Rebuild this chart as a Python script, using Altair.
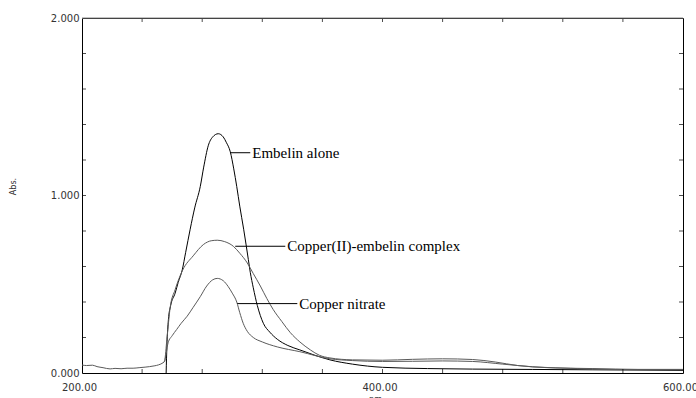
import altair as alt
import pandas as pd

# ---- data ----
embelin_nm = [256, 256.5, 257.5, 259, 262, 264, 266.7, 269, 272, 275, 278.7, 281, 284, 287, 290.7,
              294, 296, 298.7, 301, 303, 305, 307.6, 310.7, 312, 314, 316.7, 320.7, 325, 330, 337,
              345, 355, 365, 380, 400, 430, 460, 500, 540, 600]
embelin_abs = [0.0, 0.15, 0.30, 0.38, 0.45, 0.51, 0.58, 0.68, 0.81, 0.93, 1.05, 1.16, 1.28, 1.33, 1.348,
               1.33, 1.30, 1.246, 1.15, 1.05, 0.94, 0.81, 0.64, 0.567, 0.48, 0.38, 0.28, 0.23, 0.19, 0.155,
               0.13, 0.10, 0.074, 0.05, 0.032, 0.025, 0.022, 0.02, 0.018, 0.015]

complex_nm = [254, 255, 256.5, 258.7, 262, 267, 274, 281, 286, 290, 295, 300.7, 305, 310, 314,
              318.7, 323, 327.3, 333, 338.7, 345, 352, 358, 365, 380, 400, 420, 440, 460, 475,
              490, 510, 540, 570, 600]
complex_abs = [0.058, 0.07, 0.19, 0.37, 0.47, 0.58, 0.66, 0.725, 0.745, 0.748, 0.74, 0.714, 0.675, 0.62, 0.56,
               0.49, 0.42, 0.357, 0.29, 0.227, 0.175, 0.13, 0.10, 0.085, 0.074, 0.072, 0.077, 0.08, 0.076, 0.062,
               0.042, 0.03, 0.025, 0.02, 0.02]

nitrate_nm = [200, 203, 207, 210, 214, 218.7, 222, 226, 230, 234, 238, 242, 245, 248, 251, 254,
              255, 256, 257.3, 260, 263, 266, 270, 274, 278.7, 283, 287, 290, 294, 297.3, 300,
              303, 305, 307.3, 310, 314, 320, 330, 345, 365, 380, 400, 420, 440, 460, 480, 500,
              530, 560, 600]
nitrate_abs = [0.045, 0.042, 0.044, 0.036, 0.03, 0.023, 0.026, 0.024, 0.027, 0.027, 0.03, 0.033, 0.036, 0.04, 0.046, 0.058,
               0.065, 0.11, 0.17, 0.21, 0.245, 0.28, 0.32, 0.37, 0.43, 0.49, 0.525, 0.533, 0.52, 0.487, 0.45,
               0.40, 0.34, 0.28, 0.235, 0.20, 0.175, 0.147, 0.12, 0.08, 0.07, 0.065, 0.066, 0.068, 0.065, 0.05, 0.035,
               0.025, 0.02, 0.02]

series_names = ["Embelin alone", "Copper(II)-embelin complex", "Copper nitrate"]
series_colors = ["#000000", "#5a5a5a", "#5a5a5a"]

x_label_values = [200, 400, 600]
y_label_values = [0, 1, 2]
x_tick_values = [240, 280, 320, 360, 400, 440, 480, 520, 560]
y_tick_values = [0.2, 0.4, 0.6, 0.8, 1.0, 1.2, 1.4, 1.6, 1.8]

# annotation leader lines: start nm, end nm, abs level, text
ann_text = ["Embelin alone", "Copper(II)-embelin complex", "Copper nitrate"]
ann_start_nm = [298.7, 302.0, 303.3]
ann_end_nm = [312.0, 335.3, 343.3]
ann_abs = [1.241, 0.714, 0.391]

# ---- build tables ----
rows = []
for name, xs, ys in [(series_names[0], embelin_nm, embelin_abs),
                     (series_names[1], complex_nm, complex_abs),
                     (series_names[2], nitrate_nm, nitrate_abs)]:
    for x, y in zip(xs, ys):
        rows.append({"series": name, "nm": x, "abs": y})
df = pd.DataFrame(rows)

ann = pd.DataFrame({"text": ann_text, "x1": ann_start_nm, "x2": ann_end_nm, "y": ann_abs})
xt = pd.DataFrame({"v": x_tick_values})
yt = pd.DataFrame({"v": y_tick_values})

W, H = 601, 355
xscale = alt.Scale(domain=[200, 600], nice=False, zero=False)
yscale = alt.Scale(domain=[0, 2], nice=False)

lines = alt.Chart(df).mark_line(strokeWidth=1, interpolate="monotone").encode(
    x=alt.X("nm:Q", scale=xscale,
            axis=alt.Axis(values=x_label_values, format=".2f", ticks=False, domain=False, grid=False,
                          labelFont="DejaVu Sans", labelFontSize=10, labelColor="#333333",
                          labelPadding=9, labelOffset=-3, labelFlush=False,
                          title="nm", titleFont="DejaVu Sans", titleFontSize=8, titleFontWeight="normal",
                          titleColor="#333333", titleX=293, titleY=22, titleBaseline="top")),
    y=alt.Y("abs:Q", scale=yscale,
            axis=alt.Axis(values=y_label_values, format=".3f", ticks=False, domain=False, grid=False,
                          labelFont="DejaVu Sans", labelFontSize=10, labelColor="#333333",
                          labelPadding=3, labelFlush=False,
                          title="Abs.", titleFont="DejaVu Sans", titleFontSize=8, titleFontWeight="normal",
                          titleColor="#333333", titleX=-69, titleY=168, titleAngle=-90,
                          titleAlign="center", titleBaseline="middle")),
    color=alt.Color("series:N", scale=alt.Scale(domain=series_names, range=series_colors), legend=None),
    detail="series:N",
    order=alt.Order("nm:Q"),
)

leaders = alt.Chart(ann).mark_rule(color="#000000", strokeWidth=1).encode(
    x=alt.X("x1:Q", scale=xscale), x2="x2:Q", y=alt.Y("y:Q", scale=yscale))

labels = alt.Chart(ann).mark_text(align="left", baseline="middle", dx=2,
                                  font="Liberation Serif", fontSize=15, color="#000000").encode(
    x=alt.X("x2:Q", scale=xscale), y=alt.Y("y:Q", scale=yscale), text="text:N")

tick_style = dict(color="#000000", thickness=1, size=4)
bottom_ticks = alt.Chart(xt).mark_tick(orient="vertical", **tick_style).encode(
    x=alt.X("v:Q", scale=xscale), y=alt.value(H - 2))
top_ticks = alt.Chart(xt).mark_tick(orient="vertical", **tick_style).encode(
    x=alt.X("v:Q", scale=xscale), y=alt.value(2))
left_ticks = alt.Chart(yt).mark_tick(orient="horizontal", **tick_style).encode(
    y=alt.Y("v:Q", scale=yscale), x=alt.value(2))
right_ticks = alt.Chart(yt).mark_tick(orient="horizontal", **tick_style).encode(
    y=alt.Y("v:Q", scale=yscale), x=alt.value(W - 2))

top_edge = alt.Chart(pd.DataFrame({"a": [0]})).mark_rule(color="#888888", strokeWidth=1).encode(
    x=alt.value(0), x2=alt.value(W), y=alt.value(0))

chart = alt.layer(lines, leaders, labels, bottom_ticks, top_ticks, left_ticks, right_ticks, top_edge).properties(
    width=W, height=H,
    autosize=alt.AutoSizeParams(type="none"),
    padding={"left": 82, "top": 18, "right": 13, "bottom": 25},
    background="white",
).configure_view(stroke="#000000", strokeWidth=1)

chart.save("out.html", embed_options={"renderer": "svg", "actions": False})
